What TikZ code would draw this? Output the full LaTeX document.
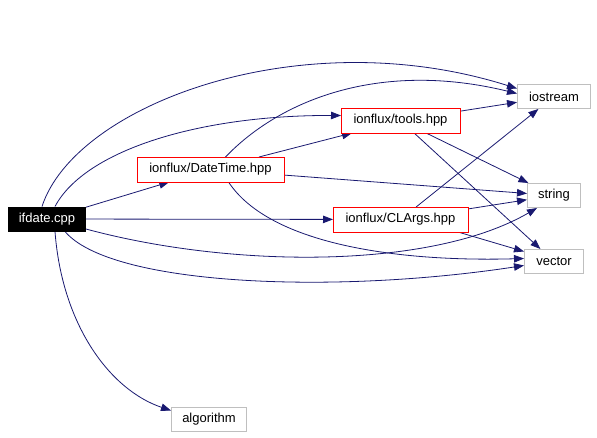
\documentclass[tikz,border=0pt]{standalone}
\usepackage{fontspec}
\setmainfont{Liberation Sans}
\usetikzlibrary{arrows.meta}
\pgfdeclarelayer{edges}
\pgfsetlayers{edges,main}
\definecolor{edgeblue}{HTML}{191970}
\definecolor{sysgray}{HTML}{BFBFBF}
\definecolor{localred}{HTML}{FF0000}

\begin{document}
\begin{tikzpicture}[x=1pt, y=-1pt, >={Triangle[length=10pt, width=7.5pt]},
        file/.style={rectangle, line width=1pt, minimum height=24pt, inner sep=0pt, font=\fontsize{13}{15}\selectfont},
        mainfile/.style={file, draw=black, fill=black, text=white},
        localfile/.style={file, fill=white, text=black},
        localframe/.style={draw=localred, line width=1pt},
        sysfile/.style={file, draw=sysgray, fill=white, text=black},
        dep/.style={->, line width=0.8pt, draw=edgeblue}]

        \useasboundingbox (0,0) rectangle (597,437);

        \node[mainfile, minimum width=77pt] (ifdate) at (47,219) {ifdate.cpp};

        \node[localfile, minimum width=146pt] (datetime) at (210.5,169.5) {ionflux/DateTime.hpp};
        \node[localfile, minimum width=118pt] (tools) at (400.5,120.5) {ionflux/tools.hpp};
        \node[localfile, minimum width=134pt] (clargs) at (400.5,219.5) {ionflux/CLArgs.hpp};

        \node[sysfile, minimum width=73pt] (iostream) at (554,96.5) {iostream};
        \node[sysfile, minimum width=53pt] (string) at (554,195.5) {string};
        \node[sysfile, minimum width=59pt] (vector) at (554,261.5) {vector};
        \node[sysfile, minimum width=75pt] (algorithm) at (209,419.5) {algorithm};

        % red frames of the project headers
        \foreach \n in {datetime, tools, clargs}
            \draw[localframe] (\n.south west) rectangle (\n.north east);

        \begin{pgfonlayer}{edges}
        % ifdate.cpp
        \draw[dep] ([xshift=-5pt]ifdate.north) .. controls (75,105) and (300,20) .. ([yshift=8pt]iostream.west);
        \draw[dep] ([xshift=8pt]ifdate.north) .. controls (85,150) and (200,115) .. ([yshift=5pt]tools.west);
        \draw[dep] (ifdate) -- (datetime);
        \draw[dep] (ifdate) -- (clargs);
        \draw[dep] ([yshift=-10pt]ifdate.east) .. controls (230,268) and (430,270) .. ([xshift=10pt]string.south west);
        \draw[dep] ([xshift=18pt]ifdate.south) .. controls (110,285) and (330,295) .. ([yshift=-4pt]vector.west);
        \draw[dep] ([xshift=8pt]ifdate.south) .. controls (62,325) and (110,390) .. ([yshift=9pt]algorithm.west);

        % ionflux/DateTime.hpp
        \draw[dep] ([xshift=15pt]datetime.north) .. controls (280,100) and (380,60) .. ([yshift=3pt]iostream.west);
        \draw[dep] (datetime) -- (tools);
        \draw[dep] (datetime) -- (string);
        \draw[dep] ([xshift=18pt]datetime.south) .. controls (270,245) and (400,262) .. ([yshift=3pt]vector.west);

        % ionflux/tools.hpp
        \draw[dep] (tools) -- (iostream);
        \draw[dep] (tools) -- (string);
        \draw[dep] (tools) -- (vector);

        % ionflux/CLArgs.hpp
        \draw[dep] (clargs) -- (iostream);
        \draw[dep] (clargs) -- (string);
        \draw[dep] ([xshift=-10pt]clargs.south east) -- ([yshift=10pt]vector.west);
        \end{pgfonlayer}
    \end{tikzpicture}
\end{document}
